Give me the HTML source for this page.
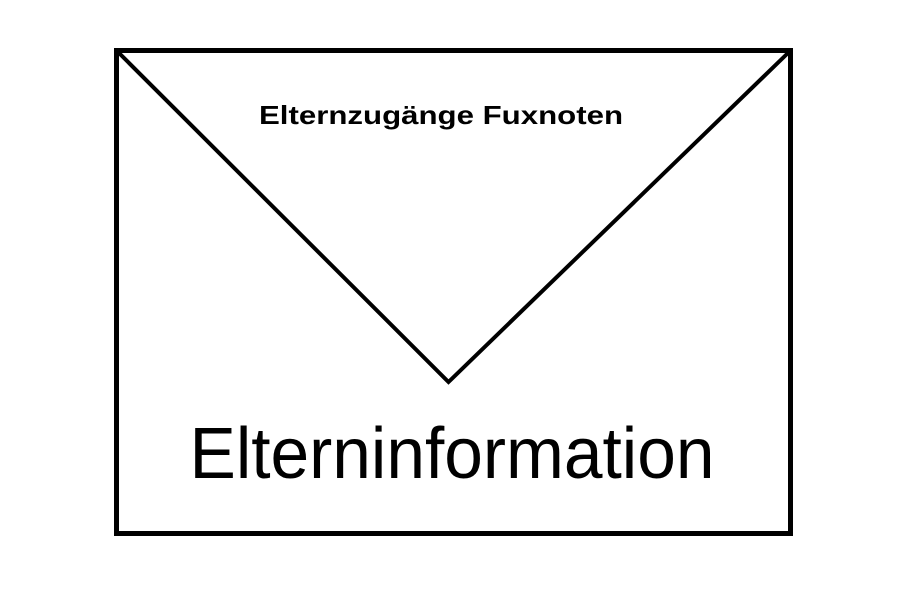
<!DOCTYPE html>
<html><head><style>body{margin:0;background:#fff}</style></head><body>
<svg width="900" height="600" xmlns="http://www.w3.org/2000/svg">
<rect x="116.5" y="50.5" width="674" height="483" fill="none" stroke="#000" stroke-width="5"/>
<polyline points="118,52 448.5,382 789,52" fill="none" stroke="#000" stroke-width="4"/>
<text x="441" y="124" font-family="Liberation Sans, sans-serif" font-weight="bold" font-size="26" text-anchor="middle" textLength="364" lengthAdjust="spacingAndGlyphs">Elternzugänge Fuxnoten</text>
<text x="452" y="478" font-family="Liberation Sans, sans-serif" font-size="72" text-anchor="middle" textLength="525" lengthAdjust="spacingAndGlyphs">Elterninformation</text>
</svg>
</body></html>
